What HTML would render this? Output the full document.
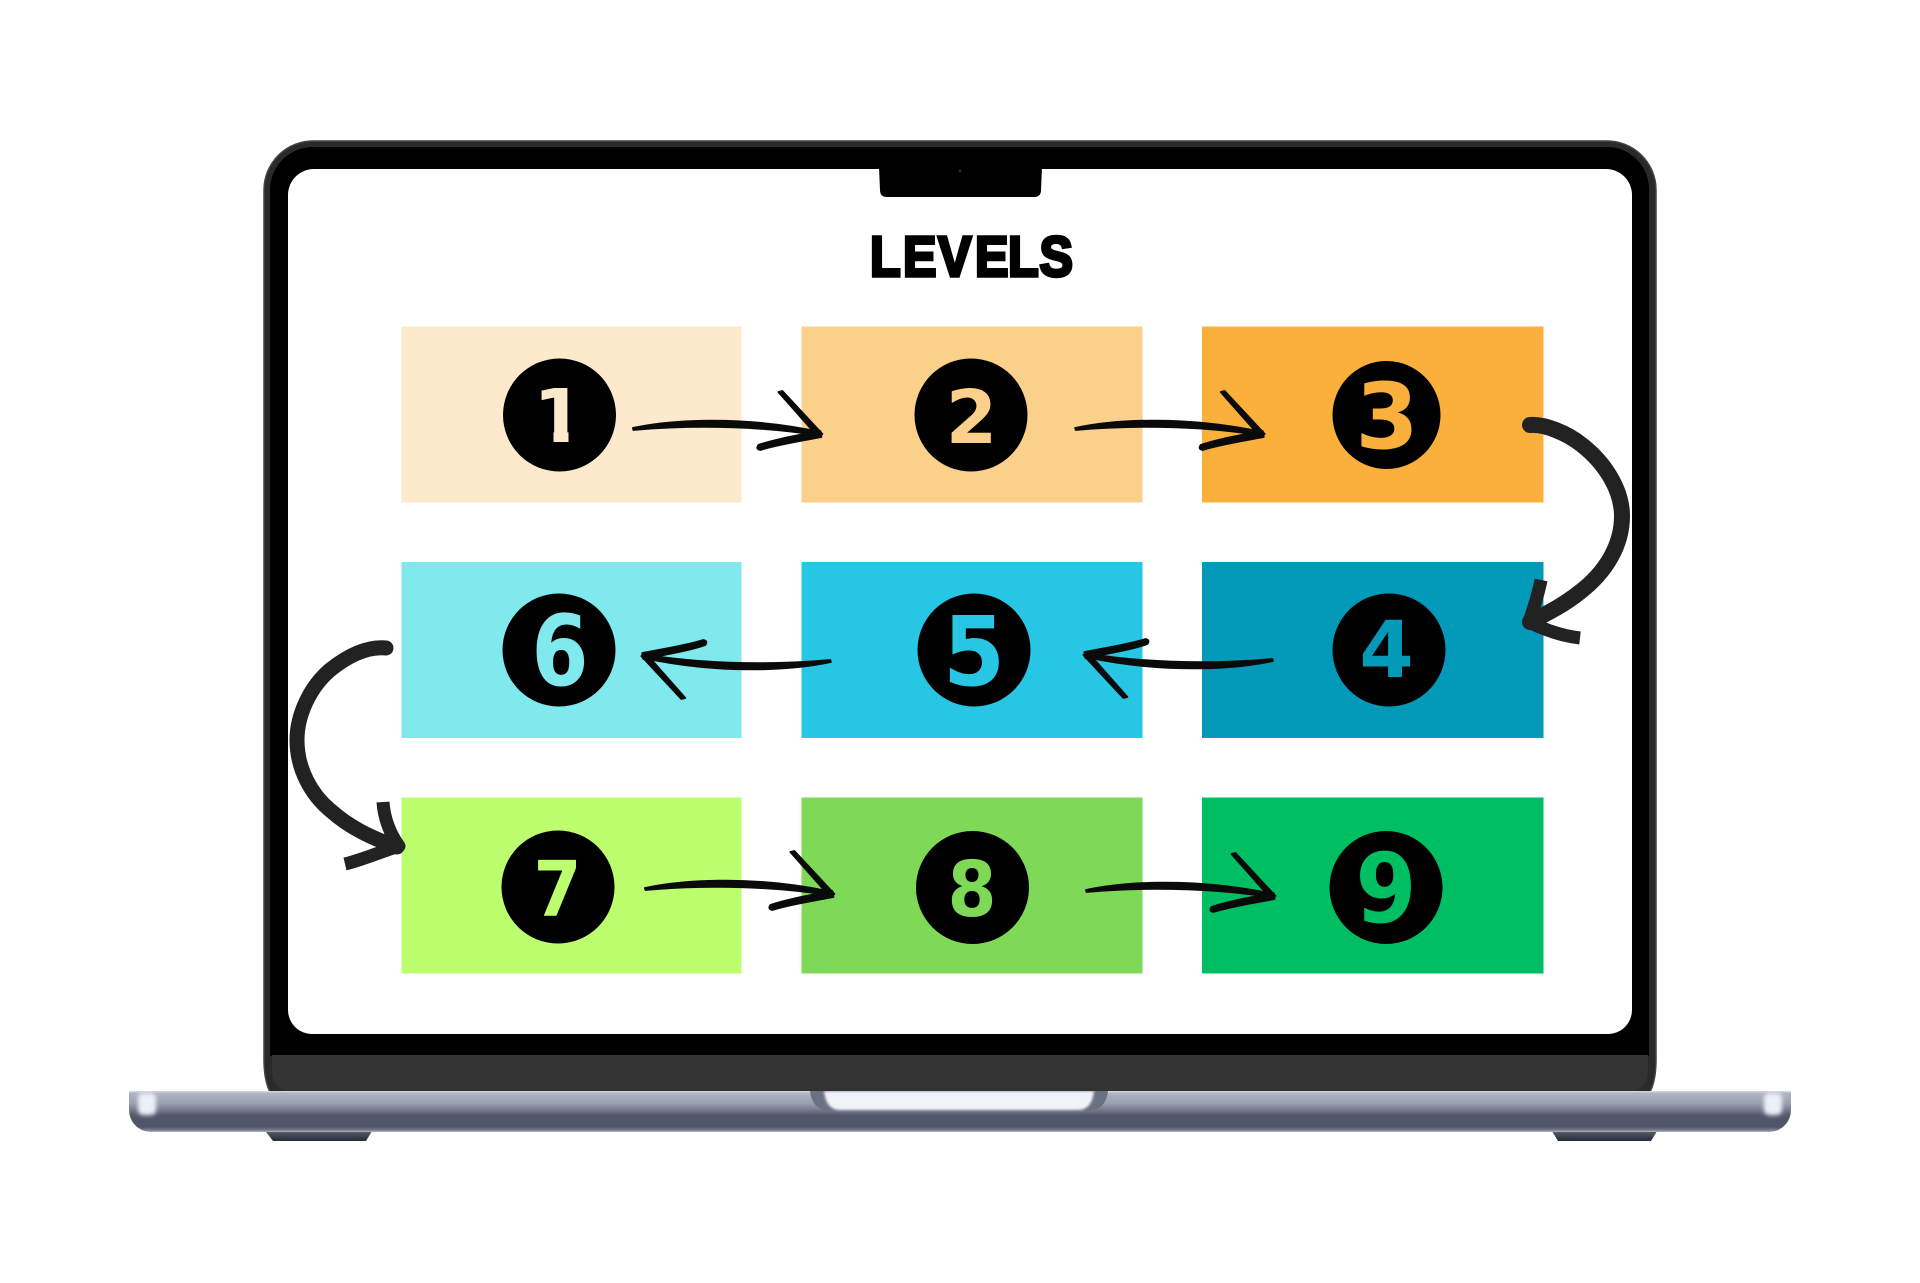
<!DOCTYPE html>
<html><head><meta charset="utf-8"><style>
html,body{margin:0;padding:0;background:#fff}
svg{display:block}
text{font-family:"Liberation Sans",sans-serif;font-weight:bold}
.d{font-family:"DejaVu Sans",sans-serif;text-anchor:middle}
</style></head><body>
<svg width="1920" height="1283" viewBox="0 0 1920 1283" xmlns="http://www.w3.org/2000/svg">
<defs>
<linearGradient id="base" x1="0" y1="0" x2="0" y2="1">
<stop offset="0" stop-color="#d5d9e2"/><stop offset=".06" stop-color="#adb5c4"/><stop offset=".3" stop-color="#98a0b1"/><stop offset=".48" stop-color="#6f7688"/><stop offset=".6" stop-color="#515869"/><stop offset=".88" stop-color="#4f5566"/><stop offset=".96" stop-color="#7d8393"/><stop offset="1" stop-color="#b5b9c2"/>
</linearGradient>
<linearGradient id="foot" x1="0" y1="0" x2="0" y2="1"><stop offset="0" stop-color="#6a7080"/><stop offset=".7" stop-color="#3b3f4b"/><stop offset="1" stop-color="#2a2c34"/></linearGradient>
<filter id="b3" x="-50%" y="-50%" width="200%" height="200%"><feGaussianBlur stdDeviation="2.2"/></filter>
<filter id="b1" x="-10%" y="-30%" width="120%" height="160%"><feGaussianBlur stdDeviation="1.2"/></filter>
<clipPath id="one"><path d="M535 380 H568.5 V446 H553.5 V430 H535Z"/></clipPath>
<g id="arrow" fill="#0a0a0a" stroke="#0a0a0a" stroke-width="1.8" stroke-linejoin="round">
<path d="M-187.5 -6 C-155 -13 -85 -20 0 -2 L1 2 C-50 -7 -120 -10 -187 -4Z"/>
<path d="M-42 -42 L-38 -43 L2 0 L-4 1Z"/>
<path d="M0 -3 L1 3 C-20 7 -45 11 -60 16 Q-65 15 -62 11 C-45 5 -20 1 0 -3Z"/>
</g>
</defs>
<rect width="1920" height="1283" fill="#fff"/>

<!-- lid -->
<path fill="#2a2a2a" stroke="#444" stroke-width="1.5" d="M264 190 A49 49 0 0 1 313 141 H1607 A49 49 0 0 1 1656 190 V1060 Q1656 1080 1650 1092 H270 Q264 1080 264 1060Z"/>
<path fill="#000" d="M270 190 A43 43 0 0 1 313 147 H1607 A42 42 0 0 1 1649 189 V1056 H270Z"/>
<path fill="#333" d="M272 1055 H1648 V1070 Q1648 1086 1636 1091 H284 Q272 1086 272 1070Z"/>
<path fill="#fff" d="M288 195 A26 26 0 0 1 314 169 H1606 A26 26 0 0 1 1632 195 V1010 A24 24 0 0 1 1608 1034 H312 A24 24 0 0 1 288 1010Z"/>
<path fill="#000" d="M879 167 H1042 L1041 190 Q1041 197 1034 197 H887 Q880 197 880 190Z"/>
<circle cx="960" cy="171" r="1.2" fill="#333"/>

<!-- base -->
<path fill="url(#foot)" d="M263 1128 H374 L366 1141 H273Z"/>
<path fill="url(#foot)" d="M1550 1128 H1659 L1651 1141 H1558Z"/>
<path fill="url(#base)" d="M129 1091 H1791 V1110 A22 22 0 0 1 1769 1132 H151 A22 22 0 0 1 129 1110Z"/>
<rect x="138" y="1093" width="18" height="22" rx="5" fill="#eef0f7" filter="url(#b3)"/>
<rect x="1764" y="1093" width="18" height="22" rx="5" fill="#eef0f7" filter="url(#b3)"/>
<path fill="#6a7182" d="M810 1091 H1108 Q1106 1111 1086 1111 H832 Q812 1111 810 1091Z"/>
<path fill="#f1f3f9" filter="url(#b1)" d="M824 1091 H1094 Q1092 1110 1078 1110 H840 Q826 1110 824 1091Z"/>
<rect x="800" y="1085" width="320" height="6" fill="#333"/>

<!-- boxes -->
<rect x="401.5" y="326.5" width="340" height="176" fill="#FDEACD"/>
<rect x="801.5" y="326.5" width="341" height="176" fill="#FBD08B"/>
<rect x="1202" y="326.5" width="341.5" height="176" fill="#FBB03B"/>
<rect x="401.5" y="562" width="340" height="176" fill="#7FE9EE"/>
<rect x="801.5" y="562" width="341" height="176" fill="#27C6E5"/>
<rect x="1202" y="562" width="341.5" height="176" fill="#0399B8"/>
<rect x="401.5" y="797.5" width="340" height="176" fill="#BDFE6F"/>
<rect x="801.5" y="797.5" width="341" height="176" fill="#7ED957"/>
<rect x="1202" y="797.5" width="341.5" height="176" fill="#00BF63"/>

<!-- title -->
<text transform="scale(.88 1)" x="988.6 1026.1 1065.9 1108 1145.5 1181.3" y="276" font-size="57" fill="#000" stroke="#000" stroke-width="3.4" stroke-linejoin="miter">LEVELS</text>

<!-- circles -->
<g fill="#000">
<circle cx="559.5" cy="415" r="56.5"/><circle cx="971" cy="415" r="56.5"/><circle cx="1386.5" cy="415" r="54"/>
<circle cx="559" cy="650" r="56.5"/><circle cx="974" cy="650" r="56.5"/><circle cx="1389" cy="650" r="56.5"/>
<circle cx="558" cy="887" r="56.5"/><circle cx="972.5" cy="887.5" r="56.5"/><circle cx="1386" cy="887.5" r="56.5"/>
</g>

<!-- digits -->
<g>
<text class="d" x="559" y="442" font-size="74" fill="#FDEACD" clip-path="url(#one)">1</text>
<text class="d" x="971.5" y="443" font-size="74" fill="#FBD08B">2</text>
<text class="d" x="1387" y="448" font-size="91" fill="#FBB03B">3</text>
<text class="d" x="560" y="685" font-size="98" fill="#7FE9EE" textLength="57" lengthAdjust="spacingAndGlyphs">6</text>
<text class="d" x="974" y="685" font-size="96" fill="#27C6E5" textLength="62" lengthAdjust="spacingAndGlyphs">5</text>
<text class="d" x="1386.5" y="677" font-size="78" fill="#0399B8">4</text>
<text class="d" x="557.5" y="916" font-size="77" fill="#BDFE6F" textLength="48" lengthAdjust="spacingAndGlyphs">7</text>
<text class="d" x="972" y="916" font-size="77" fill="#7ED957" textLength="49" lengthAdjust="spacingAndGlyphs">8</text>
<text class="d" x="1386" y="922" font-size="96" fill="#00BF63" textLength="61" lengthAdjust="spacingAndGlyphs">9</text>
</g>

<!-- small arrows -->
<use href="#arrow" transform="translate(820.4 434)"/>
<use href="#arrow" transform="translate(1262.7 434)"/>
<use href="#arrow" transform="translate(832.4 894)"/>
<use href="#arrow" transform="translate(1273.5 896)"/>
<use href="#arrow" transform="translate(643.3 656) rotate(180)"/>
<use href="#arrow" transform="translate(1085.4 655) rotate(180)"/>

<!-- big curved arrows -->
<g fill="none" stroke="#222" stroke-linecap="butt" stroke-linejoin="round">
<path stroke-width="16" stroke-linecap="round" d="M1530 425 C1545 424 1567 433 1582 445 C1605 463 1622 490 1622 516 C1622 545 1606 572 1580 592 C1565 604 1550 612 1530 622"/>
<path stroke-width="13" d="M1541 580 C1538 596 1533 610 1529 622 C1545 630 1562 636 1580 638"/>
<path stroke-width="15" stroke-linecap="round" d="M386 648 C365 646 345 658 330 670 C310 687 297 715 297 740 C297 770 312 795 330 810 C350 828 372 838 397 847"/>
<path stroke-width="13" d="M383 802 C384 818 390 834 399 846 C380 852 362 860 345 864"/>
</g>
</svg>
</body></html>
